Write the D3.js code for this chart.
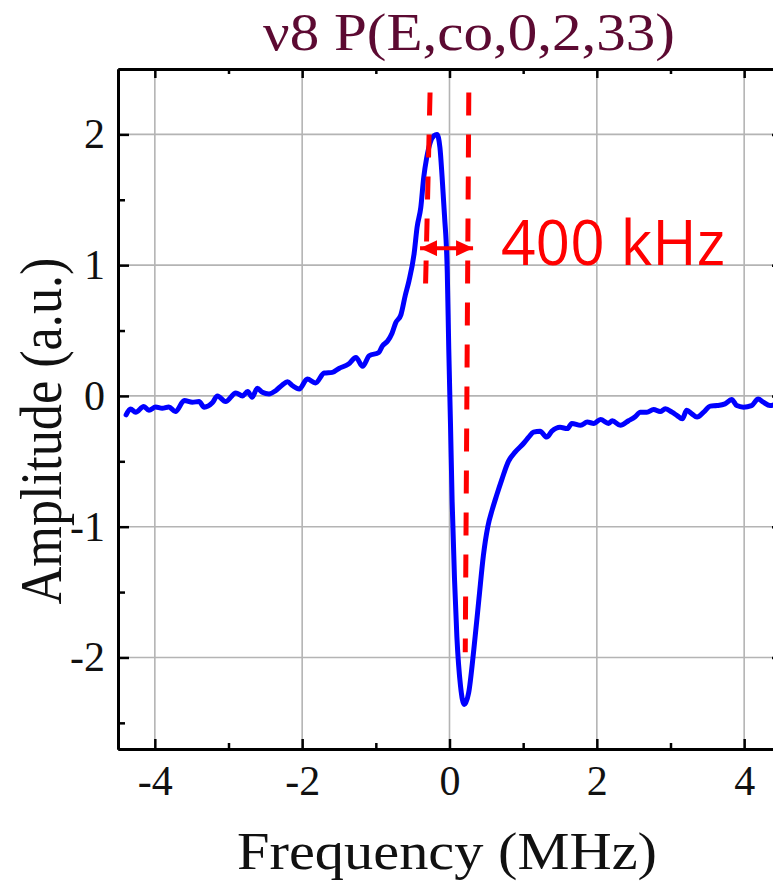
<!DOCTYPE html>
<html>
<head>
<meta charset="utf-8">
<script src="https://cdn.jsdelivr.net/npm/d3@7"></script>
<style>
  body { margin: 0; background: #fff; }
  svg { display: block; }
  .serif { font-family: "Liberation Serif", "Times New Roman", serif; }
  .tick text { font-family: "Liberation Serif", "Times New Roman", serif; font-size: 42px; fill: #111; }
</style>
</head>
<body>
<svg id="chart" width="773" height="883"></svg>
<script>
// values
var freqMHz = [-4.39,-4.33,-4.26,-4.15,-4.08,-3.99,-3.90,-3.81,-3.72,-3.60,-3.49,-3.40,-3.33,-3.22,-3.15,-3.04,
  -2.90,-2.81,-2.74,-2.68,-2.61,-2.54,-2.45,-2.36,-2.27,-2.20,-2.13,-2.04,-1.93,-1.82,-1.70,-1.59,-1.50,-1.37,
  -1.27,-1.18,-1.09,-0.96,-0.91,-0.84,-0.78,-0.73,-0.66,-0.60,-0.55,-0.48,-0.44,-0.39,-0.35,-0.31,-0.26,-0.21,
  -0.17,-0.13,-0.10,-0.068,-0.03,-0.01,0.014,0.036,0.068,0.10,0.15,0.20,0.26,0.33,0.40,0.46,0.52,0.58,0.64,0.71,0.80,
  0.89,1.01,1.075,1.14,1.23,1.32,1.39,1.50,1.60,1.66,1.78,1.87,1.96,2.05,2.16,2.21,2.32,2.43,2.52,2.59,2.68,
  2.77,2.86,2.93,3.02,3.09,3.16,3.22,3.29,3.36,3.45,3.54,3.63,3.74,3.83,3.90,3.99,4.10,4.19,4.26,4.35,4.45];
var amplitude = [-0.145,-0.10,-0.125,-0.08,-0.11,-0.085,-0.095,-0.085,-0.12,-0.035,-0.048,-0.043,-0.086,-0.053,0.0,-0.043,
  0.023,0.0,0.033,-0.01,0.058,0.028,0.015,0.04,0.084,0.109,0.078,0.053,0.129,0.099,0.175,0.18,0.21,0.244,
  0.294,0.226,0.307,0.332,0.383,0.42,0.48,0.56,0.62,0.77,0.88,1.09,1.29,1.44,1.67,1.82,1.94,1.99,
  2.00,1.90,1.67,1.38,0.94,0.36,-0.23,-0.81,-1.40,-1.84,-2.22,-2.36,-2.27,-1.94,-1.55,-1.22,-1.00,-0.87,-0.76,-0.64,-0.50,
  -0.43,-0.36,-0.315,-0.277,-0.27,-0.315,-0.27,-0.24,-0.25,-0.21,-0.225,-0.20,-0.21,-0.18,-0.21,-0.19,-0.225,-0.19,-0.16,-0.124,-0.124,
  -0.104,-0.12,-0.099,-0.124,-0.15,-0.175,-0.11,-0.137,-0.162,-0.124,-0.078,-0.074,-0.061,-0.028,-0.074,-0.086,-0.074,-0.023,-0.048,-0.074,-0.06];

var xTicks = [-4, -2, 0, 2, 4];
var xMinor = [-3, -1, 1, 3];
var yTicks = [-2, -1, 0, 1, 2];
var yMinor = [-2.5, -1.5, -0.5, 0.5, 1.5];

// width marker: two dashed lines [x top, y top, x bottom, y bottom] and the arrow
var dashLeft = [-0.264, 2.32, -0.325, 0.85];
var dashRight = [0.262, 2.32, 0.214, -1.96];
var arrowSpan = [-0.40, 0.32, 1.13];
var widthLabel = "400 kHz";

var svg = d3.select("#chart"),
    margin = {top: 69, right: -8, bottom: 134, left: 118},
    chartWidth = +svg.attr("width") - margin.left - margin.right,
    chartHeight = +svg.attr("height") - margin.top - margin.bottom;

var x = d3.scaleLinear().domain([-4.5, 4.5]).range([0, chartWidth]),
    y = d3.scaleLinear().domain([-2.7, 2.5]).range([chartHeight, 0]);

var g = svg.append("g")
    .attr("transform", "translate(" + margin.left + "," + margin.top + ")");

g.append("clipPath").attr("id", "plotclip")
  .append("rect").attr("width", chartWidth).attr("height", chartHeight);

// grid
g.append("g").selectAll("line").data(xTicks).enter().append("line")
    .attr("x1", function(d) { return x(d); }).attr("x2", function(d) { return x(d); })
    .attr("y1", 0).attr("y2", chartHeight)
    .attr("stroke", "#b4b4b4").attr("stroke-width", 1.6);
g.append("g").selectAll("line").data(yTicks).enter().append("line")
    .attr("y1", function(d) { return y(d); }).attr("y2", function(d) { return y(d); })
    .attr("x1", 0).attr("x2", chartWidth)
    .attr("stroke", "#b4b4b4").attr("stroke-width", 1.6);

// signal
var points = freqMHz.map(function(f, i) { return [f, amplitude[i]]; });
var line = d3.line()
    .x(function(d) { return x(d[0]); })
    .y(function(d) { return y(d[1]); })
    .curve(d3.curveMonotoneX);

g.append("path")
    .datum(points)
    .attr("clip-path", "url(#plotclip)")
    .attr("d", line)
    .attr("fill", "none")
    .attr("stroke", "#0000ff")
    .attr("stroke-width", 5)
    .attr("stroke-linejoin", "round")
    .attr("stroke-linecap", "round");

// dashed width lines
[dashLeft, dashRight].forEach(function(d) {
  g.append("line")
      .attr("x1", x(d[0])).attr("y1", y(d[1]))
      .attr("x2", x(d[2])).attr("y2", y(d[3]))
      .attr("stroke", "#ff0000")
      .attr("stroke-width", 5)
      .attr("stroke-dasharray", "23,19");
});

// double arrow
var defs = svg.append("defs");
defs.append("marker")
    .attr("id", "head")
    .attr("markerUnits", "userSpaceOnUse")
    .attr("viewBox", "0 -8 17 16")
    .attr("refX", 17).attr("refY", 0)
    .attr("markerWidth", 17).attr("markerHeight", 16)
    .attr("orient", "auto-start-reverse")
  .append("path")
    .attr("d", "M0,-8L17,0L0,8Z")
    .attr("fill", "#ff0000");

g.append("line")
    .attr("x1", x(arrowSpan[0])).attr("x2", x(arrowSpan[1]))
    .attr("y1", y(arrowSpan[2])).attr("y2", y(arrowSpan[2]))
    .attr("stroke", "#ff0000")
    .attr("stroke-width", 4)
    .attr("marker-start", "url(#head)")
    .attr("marker-end", "url(#head)");

g.append("text")
    .attr("x", x(0.70))
    .attr("y", y(1.0))
    .attr("textLength", 224)
    .attr("lengthAdjust", "spacingAndGlyphs")
    .style("font-family", "'Open Sans', sans-serif")
    .style("font-size", "62px")
    .attr("fill", "#ff0000")
    .text(widthLabel);

// axes
function styleAxis(sel) {
  sel.attr("font-size", 42);
  sel.selectAll("path.domain").attr("stroke", "#000").attr("stroke-width", 3);
  sel.selectAll(".tick line").attr("stroke", "#000").attr("stroke-width", 2.5);
}
var fmt = function(d) { return String(d); };

g.append("g").attr("transform", "translate(0," + chartHeight + ")")
    .call(d3.axisBottom(x).tickValues(xTicks).tickSize(-10).tickSizeOuter(0).tickPadding(16).tickFormat(fmt))
    .call(styleAxis);
g.append("g").attr("transform", "translate(0," + chartHeight + ")")
    .call(d3.axisBottom(x).tickValues(xMinor).tickSize(-6).tickSizeOuter(0).tickFormat(""))
    .call(styleAxis);
g.append("g")
    .call(d3.axisTop(x).tickValues(xTicks).tickSize(-9).tickSizeOuter(0).tickFormat(""))
    .call(styleAxis);
g.append("g")
    .call(d3.axisTop(x).tickValues(xMinor).tickSize(-5).tickSizeOuter(0).tickFormat(""))
    .call(styleAxis);

g.append("g")
    .call(d3.axisLeft(y).tickValues(yTicks).tickSize(-11).tickSizeOuter(0).tickPadding(13).tickFormat(fmt))
    .call(styleAxis);
g.append("g")
    .call(d3.axisLeft(y).tickValues(yMinor).tickSize(-7).tickSizeOuter(0).tickFormat(""))
    .call(styleAxis);
g.append("g").attr("transform", "translate(" + chartWidth + ",0)")
    .call(d3.axisRight(y).tickValues(yTicks).tickSize(-9).tickSizeOuter(0).tickFormat(""))
    .call(styleAxis);
g.append("g").attr("transform", "translate(" + chartWidth + ",0)")
    .call(d3.axisRight(y).tickValues(yMinor).tickSize(-5).tickSizeOuter(0).tickFormat(""))
    .call(styleAxis);

// titles
svg.append("text")
    .attr("class", "serif")
    .attr("x", 263).attr("y", 50)
    .attr("textLength", 412)
    .attr("lengthAdjust", "spacingAndGlyphs")
    .style("font-size", "53px")
    .attr("fill", "#5c0a32")
    .text("ν8 P(E,co,0,2,33)");

svg.append("text")
    .attr("class", "serif")
    .attr("x", 237).attr("y", 869)
    .attr("textLength", 420)
    .attr("lengthAdjust", "spacingAndGlyphs")
    .style("font-size", "52px")
    .attr("fill", "#111")
    .text("Frequency (MHz)");

svg.append("text")
    .attr("class", "serif")
    .attr("transform", "translate(61,431) scale(1.15,1) rotate(-90)")
    .attr("text-anchor", "middle")
    .attr("textLength", 347)
    .attr("lengthAdjust", "spacingAndGlyphs")
    .style("font-size", "52px")
    .attr("fill", "#111")
    .text("Amplitude (a.u.)");
</script>
</body>
</html>
